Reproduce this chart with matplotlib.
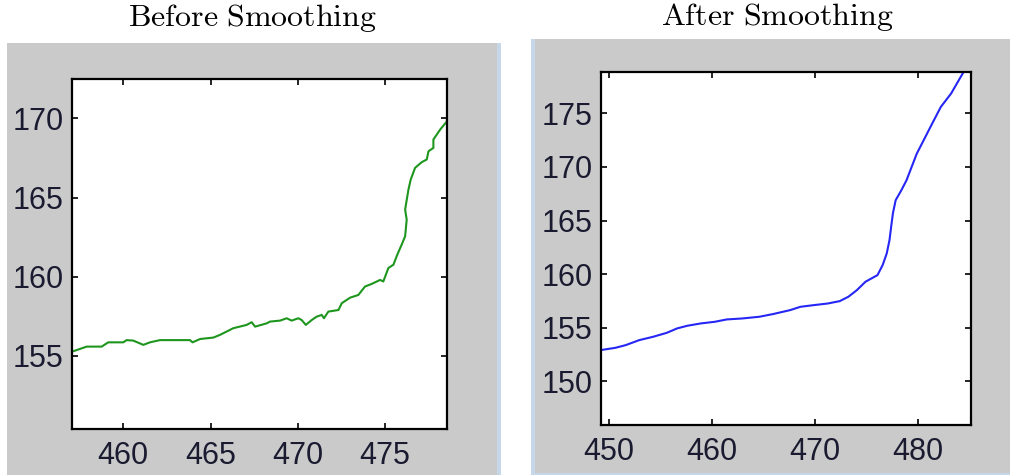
import matplotlib
matplotlib.use("Agg")
import matplotlib.pyplot as plt
from matplotlib.patches import Rectangle

plt.rcParams['mathtext.fontset'] = 'cm'
plt.rcParams['font.family'] = ['Liberation Sans', 'DejaVu Sans']

# raw trajectory
raw_x = [457.06, 457.9, 458.76, 459.14, 460.0, 460.19, 460.57, 461.15, 461.53, 462.1,
         463.82, 463.97, 464.4, 465.16, 465.54, 466.3, 467.07, 467.36, 467.55, 468.22,
         468.41, 468.98, 469.36, 469.65, 470.03, 470.22, 470.46, 470.8, 471.08, 471.37,
         471.5, 471.75, 472.33, 472.52, 473.0, 473.47, 473.85, 474.24, 474.72, 474.9,
         475.19, 475.48, 475.7, 475.95, 476.15, 476.24, 476.15, 476.34, 476.47, 476.72,
         477.1, 477.39, 477.49, 477.77, 477.77, 478.16, 478.54, 478.57]
raw_y = [155.27, 155.59, 155.59, 155.86, 155.86, 156.0, 155.97, 155.7, 155.86, 156.0,
         156.0, 155.86, 156.07, 156.16, 156.33, 156.75, 156.96, 157.13, 156.85, 157.06,
         157.17, 157.23, 157.38, 157.23, 157.38, 157.27, 156.96, 157.27, 157.48, 157.59,
         157.38, 157.8, 157.9, 158.33, 158.68, 158.85, 159.38, 159.55, 159.8, 159.7,
         160.55, 160.76, 161.39, 162.02, 162.55, 163.6, 164.24, 165.5, 166.13, 166.87,
         167.23, 167.4, 167.92, 168.13, 168.66, 169.29, 169.8, 170.32]

# smoothed trajectory
smooth_x = [449.2, 450.6, 451.6, 452.93, 454.27, 455.6, 456.6, 457.6, 458.93, 460.27,
            461.43, 462.93, 464.6, 465.93, 467.6, 468.6, 469.93, 471.27, 472.43, 473.27,
            474.1, 474.93, 476.1, 476.6, 477.0, 477.27, 477.43, 477.6, 477.87, 478.43,
            478.93, 479.43, 479.93, 480.6, 481.43, 482.27, 483.27, 484.43]
smooth_y = [152.9, 153.11, 153.36, 153.83, 154.14, 154.51, 154.92, 155.17, 155.39, 155.54,
            155.76, 155.85, 156.01, 156.26, 156.63, 156.94, 157.1, 157.25, 157.47, 157.88,
            158.5, 159.28, 159.9, 160.83, 161.92, 163.17, 164.41, 165.66, 166.9, 167.84,
            168.77, 170.02, 171.26, 172.51, 174.07, 175.62, 176.87, 178.8]

left_xticks = [460, 465, 470, 475]
left_yticks = [155, 160, 165, 170]
right_xticks = [450, 460, 470, 480]
right_yticks = [150, 155, 160, 165, 170, 175]

W, H = 1010, 475
fig = plt.figure(figsize=(W / 100, H / 100), dpi=100, facecolor='white')

grey = '#cacaca'
edge = '#c6d7ea'


def px_rect(x0, y0, x1, y1, color):
    fig.patches.append(Rectangle((x0 / W, 1 - y1 / H), (x1 - x0) / W, (y1 - y0) / H,
                                 transform=fig.transFigure, facecolor=color,
                                 edgecolor='none', zorder=-5))


# window backgrounds
px_rect(7, 43, 497, 475, grey)
px_rect(497, 43, 501, 475, edge)
px_rect(531, 39, 535, 475, edge)
px_rect(535, 39, 1010, 473, grey)
px_rect(535, 473, 1010, 475, edge)

label_color = '#1a1a30'


def style(ax, xticks, yticks):
    ax.set_xticks(xticks)
    ax.set_yticks(yticks)
    ax.tick_params(direction='in', length=4, width=1.2, top=True, right=True,
                   labelsize=22, labelcolor=label_color, color='black')
    ax.tick_params(axis='x', pad=9)
    ax.tick_params(axis='y', pad=6)
    for s in ax.spines.values():
        s.set_linewidth(1.6)
        s.set_color('black')


ax1 = fig.add_axes([72 / W, 1 - 429 / H, 375 / W, 350 / H])
ax1.plot(raw_x, raw_y, color='#1e961e', lw=1.5)
ax1.set_xlim(457.06, 478.55)
ax1.set_ylim(150.39, 172.48)
style(ax1, left_xticks, left_yticks)

ax2 = fig.add_axes([601 / W, 1 - 425 / H, 370 / W, 353.3 / H])
ax2.plot(smooth_x, smooth_y, color='#2626f5', lw=1.5)
ax2.set_xlim(449.2, 485.2)
ax2.set_ylim(145.9, 178.9)
style(ax2, right_xticks, right_yticks)

fig.text(253 / W, 1 - 18 / H, r'$\mathrm{Before\ Smoothing}$', ha='center', va='center',
         fontsize=23, color='black')
fig.text(777 / W, 1 - 17 / H, r'$\mathrm{After\ Smoothing}$', ha='center', va='center',
         fontsize=23, color='black')

fig.savefig('out.png', dpi=100, facecolor='white')
